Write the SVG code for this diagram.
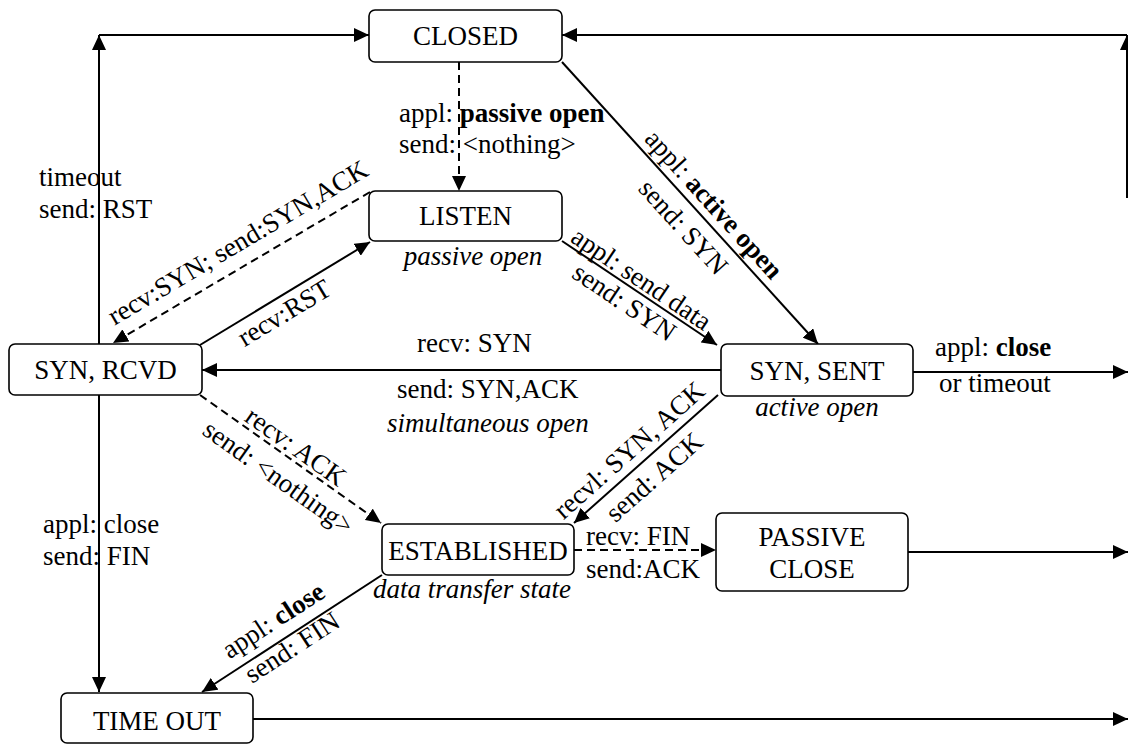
<svg xmlns="http://www.w3.org/2000/svg" width="1128" height="745" viewBox="0 0 1128 745" font-family="'Liberation Serif', 'DejaVu Serif', 'Times New Roman', serif">
<style>
  text { font-family: 'Liberation Serif', 'DejaVu Serif', 'Times New Roman', serif; font-size: 27px; fill: #000; }
  .node rect { fill: #fff; stroke: #000; stroke-width: 1.6; }
  .node text { text-anchor: middle; }
  .edge { fill: none; stroke: #000; stroke-width: 2; marker-end: url(#arrow); }
  .dash { stroke-dasharray: 8 5; }
  .b { font-weight: bold; }
  .i { font-style: italic; }
</style>
<defs>
  <marker id="arrow" viewBox="0 0 15 14" refX="15" refY="7" markerWidth="15" markerHeight="14" markerUnits="userSpaceOnUse" orient="auto">
    <path d="M0,0 L15,7 L0,14 z" fill="#000"/>
  </marker>
</defs>
<rect width="1128" height="745" fill="#fff"/>

<!-- transitions -->
<g id="connectors">
  <path class="edge" d="M99,344 V35"/>
  <path class="edge" d="M99,35 H369"/>
  <path class="edge" d="M1127,198 V35"/>
  <path class="edge" d="M1127,35 H562"/>
  <path class="edge dash" d="M459,62 V191"/>
  <path class="edge" d="M562,62 L818,344"/>
  <path class="edge" d="M562,241 L717,345"/>
  <path class="edge" d="M200,345 L370,242"/>
  <path class="edge dash" d="M370,192 L113,343"/>
  <path class="edge" d="M721,370 H202"/>
  <path class="edge" d="M908,372 H1128"/>
  <path class="edge dash" d="M200,395 L381,523"/>
  <path class="edge" d="M718,395 L574,523"/>
  <path class="edge dash" d="M574,550 H716"/>
  <path class="edge" d="M908,552 H1128"/>
  <path class="edge" d="M99,395 V692"/>
  <path class="edge" d="M382,575 L202,692"/>
  <path class="edge" d="M253,719 H1128"/>
</g>

<!-- transition labels -->
<g id="labels">
  <text x="399" y="122">appl: <tspan class="b">passive open</tspan></text>
  <text x="399" y="153">send: &lt;nothing&gt;</text>
  <text x="39" y="186">timeout</text>
  <text x="39" y="218">send: RST</text>
  <text x="43" y="533">appl: close</text>
  <text x="43" y="565">send: FIN</text>
  <text x="417" y="352">recv: SYN</text>
  <text x="397" y="398">send: SYN,ACK</text>
  <text x="387" y="432" class="i">simultaneous open</text>
  <text x="935" y="356">appl: <tspan class="b">close</tspan></text>
  <text x="939" y="392">or timeout</text>
  <text x="586" y="545">recv: FIN</text>
  <text x="586" y="578">send:ACK</text>

  <text transform="translate(643.4,139.7) rotate(47.8)">appl: <tspan class="b">active open</tspan></text>
  <text transform="translate(637.2,189.5) rotate(47.8)">send: SYN</text>
  <text transform="translate(569.2,241) rotate(33.9)">appl: send data</text>
  <text transform="translate(570.5,276.8) rotate(33.9)">send: SYN</text>
  <text transform="translate(244.6,347.2) rotate(-31.2)">recv:RST</text>
  <text transform="translate(114.5,325.8) rotate(-30.6)">recv:SYN; send:SYN,ACK</text>
  <text transform="translate(243.3,420.3) rotate(35.3)">recv: ACK</text>
  <text transform="translate(200.9,433.6) rotate(35.3)">send: &lt;nothing&gt;</text>
  <text transform="translate(563.5,520.3) rotate(-41.6)">recvl: SYN, ACK</text>
  <text transform="translate(615.5,523.3) rotate(-41.6)">send: ACK</text>
  <text transform="translate(229.4,659.4) rotate(-33)">appl: <tspan class="b">close</tspan></text>
  <text transform="translate(252,684) rotate(-33)">send: FIN</text>
</g>

<!-- states -->
<g id="closed" class="node">
  <rect x="369" y="10" width="193" height="52" rx="6"/>
  <text x="465.5" y="45">CLOSED</text>
</g>
<g id="listen" class="node">
  <rect x="369" y="191" width="193" height="50" rx="6"/>
  <text x="465.5" y="225">LISTEN</text>
  <text x="473" y="265" class="i">passive open</text>
</g>
<g id="syn-rcvd" class="node">
  <rect x="9" y="344" width="193" height="51" rx="6"/>
  <text x="105.5" y="379">SYN, RCVD</text>
</g>
<g id="syn-sent" class="node">
  <rect x="721" y="344" width="192" height="52" rx="6"/>
  <text x="817" y="380">SYN, SENT</text>
  <text x="817" y="416" class="i">active open</text>
</g>
<g id="established" class="node">
  <rect x="382" y="524" width="192" height="51" rx="6"/>
  <text x="478" y="560">ESTABLISHED</text>
  <text x="472" y="598" class="i">data transfer state</text>
</g>
<g id="passive-close" class="node">
  <rect x="716" y="513" width="192" height="78" rx="6"/>
  <text x="812" y="546">PASSIVE</text>
  <text x="812" y="578">CLOSE</text>
</g>
<g id="time-out" class="node">
  <rect x="61" y="693" width="192" height="50" rx="6"/>
  <text x="157" y="730">TIME OUT</text>
</g>
</svg>
